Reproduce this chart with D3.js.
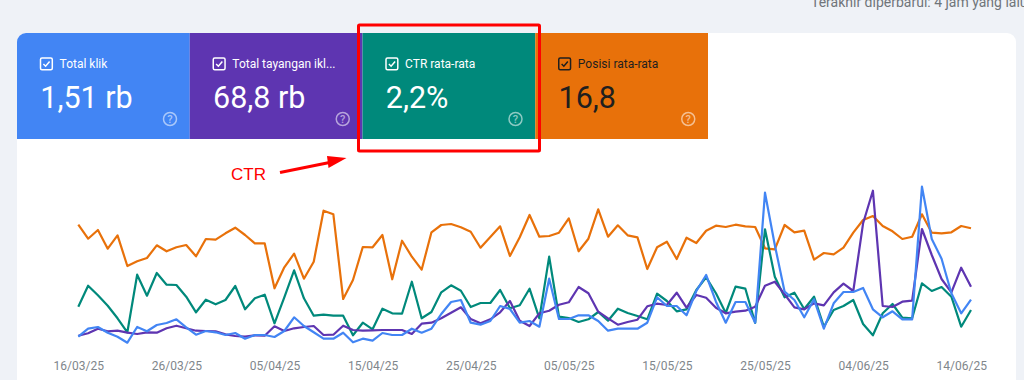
<!DOCTYPE html>
<html>
<head>
<meta charset="utf-8">
<script src="https://cdn.jsdelivr.net/npm/d3@7"></script>
<style>
  body { margin: 0; background: #EFF2F7; overflow: hidden; }
  svg { display: block; font-family: Roboto, sans-serif; }
</style>
</head>
<body>
<div id="chart"></div>
<script>
// CARDS
let cardTitles = ["Total klik", "Total tayangan ikl...", "CTR rata-rata", "Posisi rata-rata"];
let cardValues = ["1,51 rb", "68,8 rb", "2,2%", "16,8"];
let cardColors = ["#4285F4", "#5E35B1", "#00897B", "#E8710A"];
let cardInk = ["#ffffff", "#ffffff", "#ffffff", "#1f1f1f"];

// DATA (the chart has no y axis, so these are relative levels)
let startDate = "16/03/25";
let tickLabels = ["16/03/25", "26/03/25", "05/04/25", "15/04/25", "25/04/25", "05/05/25", "15/05/25", "25/05/25", "04/06/25", "14/06/25"];

let posisi = [120.3,106.3,115,96.3,109.7,79,83.7,87,99.7,93.7,97.7,100,88.7,106,105.3,111.7,117.3,110,101.7,101.7,56.7,77.7,91.3,66.3,83.3,134.3,130.7,46,65,98,97.7,110,65.7,104.3,88.3,75.3,112.7,120,121,117.7,113.3,97.3,108,118.7,89,107.7,130,108.3,109,112.3,126.7,93.7,106.3,135.7,108.3,119.7,109.7,107.7,76,97.7,103.3,86,107.3,102,114.3,119.3,118,120.3,118.7,118,96.7,95.7,120,112.7,114.3,85.3,92,90.7,97.3,112.3,125,129,119,113.7,106,108.3,130.7,112.3,111.7,112.7,119,116.7];
let ctr = [38.3,59.3,49.7,39.3,26.7,12.7,70.3,49.3,72,60.3,60,48.3,32.7,45.3,40.7,45,59,35.7,46.7,50.3,21.7,47.7,74.7,46.7,29.3,30.3,29.3,29.3,9.7,22.3,15.7,36.3,31.7,31.3,63.3,26.7,33,52.7,59.7,54.3,38,42,42,55,36.7,39.7,56.3,26.7,88.3,28.3,27,23,25.7,33,24.3,36.3,32,29,25.7,51.3,44,33.7,35.7,55,67.7,51.7,32,58.3,56.3,22,115.7,68.3,47.7,52.3,36,48.3,18.3,35,39,45,21,9.7,31.7,41,27.3,26.7,61.7,54,58,48.3,18.3,35];
let tayangan = [9.3,11.7,16.3,13.7,14.3,12.3,11,12.7,12.3,16.7,19.3,16.7,14.3,14,13.7,10.7,9,8.3,9.7,9.3,18.7,14,16.7,18,19,10,10.3,19.3,15,14.3,14.7,15,15,15,11,21.3,22.3,26.7,32.3,37.7,26,21.7,25.7,32.7,44,24.3,19,31.7,34.3,40.3,42.7,58,51.7,33.3,26.7,20.3,23,25.3,38.7,41.3,40,52.3,37.3,50,47.3,37.3,31.7,33.3,34.3,38.3,59.3,63.3,50.7,37.7,35.7,41.7,39.7,52.7,61.3,54,121.7,154.3,39,38,43.3,44.3,116,90,66,52.7,77.3,58.3];
let klik = [8.3,16.3,18,12.3,8.3,2.3,18,13.7,20,22,25.7,17.7,10.3,14,12.7,10,12,6.3,10,10,8,14,27.7,19,12.7,6.3,6.3,12.3,2.7,6.3,4.3,12,10,10,16.3,12.3,16.3,31,43,45,22.3,20.3,24,39,36,22.3,24,18.3,66.3,26,26,29.7,29.7,24,14.3,16.3,16.3,16.3,22.3,47.7,39,39,29.7,54,70,43.3,22.3,43,43,22.3,152.3,100,53.3,45,27.7,45.7,16.3,41.7,53,53,57,35.7,27.7,33.7,25.7,25.7,158.3,106,86.3,51.7,31.7,45.3];

let w = 1024;
let h = 380;

// SVG
let viz = d3.select("#chart").append("svg")
    .attr("width", w)
    .attr("height", h)
;

// "last updated" line, cut by the top edge and the right edge
viz.append("text")
    .attr("x", 811)
    .attr("y", 7)
    .attr("font-size", 14)
    .attr("fill", "#70757a")
    .text("Terakhir diperbarui: 4 jam yang lalu")
;

// white panel
viz.append("clipPath").attr("id", "panelClip")
  .append("rect")
    .attr("x", 17).attr("y", 33)
    .attr("width", 999).attr("height", 400)
    .attr("rx", 9)
;
viz.append("rect")
    .attr("x", 17).attr("y", 33)
    .attr("width", 999).attr("height", 400)
    .attr("rx", 9)
    .attr("fill", "#ffffff")
;

// CARDS
let cardScale = d3.scaleBand().domain(cardTitles).range([17, 708]);

let cards = viz.append("g").attr("clip-path", "url(#panelClip)")
  .selectAll("g").data(cardTitles).enter()
  .append("g")
    .attr("transform", d => "translate(" + cardScale(d) + ",33)")
;

cards.append("rect")
    .attr("width", cardScale.bandwidth())
    .attr("height", 106)
    .attr("fill", (d, i) => cardColors[i])
;

// checkbox
cards.append("rect")
    .attr("x", 23.5).attr("y", 25)
    .attr("width", 11.8).attr("height", 11.8)
    .attr("rx", 1.5)
    .attr("fill", "none")
    .attr("stroke", (d, i) => cardInk[i])
    .attr("stroke-width", 1.5)
;
cards.append("path")
    .attr("d", "M26.4 31 L28.6 33.2 L32.6 28.4")
    .attr("fill", "none")
    .attr("stroke", (d, i) => cardInk[i])
    .attr("stroke-width", 1.5)
;

cards.append("text")
    .attr("x", 42.6)
    .attr("y", 34.5)
    .attr("font-size", 12)
    .attr("fill", (d, i) => cardInk[i])
    .text(d => d)
;

cards.append("text")
    .attr("x", 23.3)
    .attr("y", 75)
    .attr("font-size", 30.5)
    .attr("fill", (d, i) => cardInk[i])
    .text((d, i) => cardValues[i])
;

// help icon
cards.append("circle")
    .attr("cx", 153).attr("cy", 86)
    .attr("r", 6.5)
    .attr("fill", "none")
    .attr("stroke", "#ffffff")
    .attr("stroke-opacity", 0.55)
    .attr("stroke-width", 1.5)
;
cards.append("text")
    .attr("x", 153).attr("y", 90)
    .attr("text-anchor", "middle")
    .attr("font-size", 11)
    .attr("font-weight", 500)
    .attr("fill", "#ffffff")
    .attr("fill-opacity", 0.55)
    .text("?")
;

// SCALES
let parseDate = d3.utcParse("%d/%m/%y");
let start = parseDate(startDate);
let dates = klik.map((d, i) => d3.utcDay.offset(start, i));

let xScale = d3.scaleUtc()
    .domain(d3.extent(dates))
    .range([78.3, 971])
;
let yScale = d3.scaleLinear()
    .domain([0, 160])
    .range([345, 185])
;

// X AXIS
let xAxis = d3.axisBottom(xScale)
    .tickValues(tickLabels.map(parseDate))
    .tickFormat(d3.utcFormat("%d/%m/%y"))
    .tickSize(0)
    .tickPadding(0)
;
let xAxisGroup = viz.append("g")
    .attr("transform", "translate(0,361)")
    .call(xAxis)
;
xAxisGroup.select(".domain").remove();
xAxisGroup.selectAll("text")
    .attr("font-family", "Roboto, sans-serif")
    .attr("font-size", 12)
    .attr("fill", "#80868b")
;

// LINES
let lineMaker = d3.line()
    .x((d, i) => xScale(dates[i]))
    .y(d => yScale(d))
;

let seriesList = [posisi, ctr, tayangan, klik];
let seriesColors = ["#E8710A", "#00897B", "#5E35B1", "#4285F4"];

viz.selectAll(".series").data(seriesList).enter()
  .append("path")
    .attr("class", "series")
    .attr("d", lineMaker)
    .attr("fill", "none")
    .attr("stroke", (d, i) => seriesColors[i])
    .attr("stroke-width", 2.2)
    .attr("stroke-linejoin", "round")
;

// RED NOTE: box, arrow and label
viz.append("rect")
    .attr("x", 358.5).attr("y", 25)
    .attr("width", 181).attr("height", 126)
    .attr("rx", 1)
    .attr("fill", "none")
    .attr("stroke", "#FF0000")
    .attr("stroke-width", 3)
;
viz.append("line")
    .attr("x1", 280).attr("y1", 172.5)
    .attr("x2", 332).attr("y2", 162)
    .attr("stroke", "#FF0000")
    .attr("stroke-width", 3)
;
viz.append("path")
    .attr("d", "M346.5 158 L327 156 L328.5 168 Z")
    .attr("fill", "#FF0000")
;
viz.append("text")
    .attr("x", 231)
    .attr("y", 180)
    .attr("font-family", "'Liberation Sans', Arial, sans-serif")
    .attr("font-size", 17)
    .attr("fill", "#FF0000")
    .text("CTR")
;
</script>
</body>
</html>
